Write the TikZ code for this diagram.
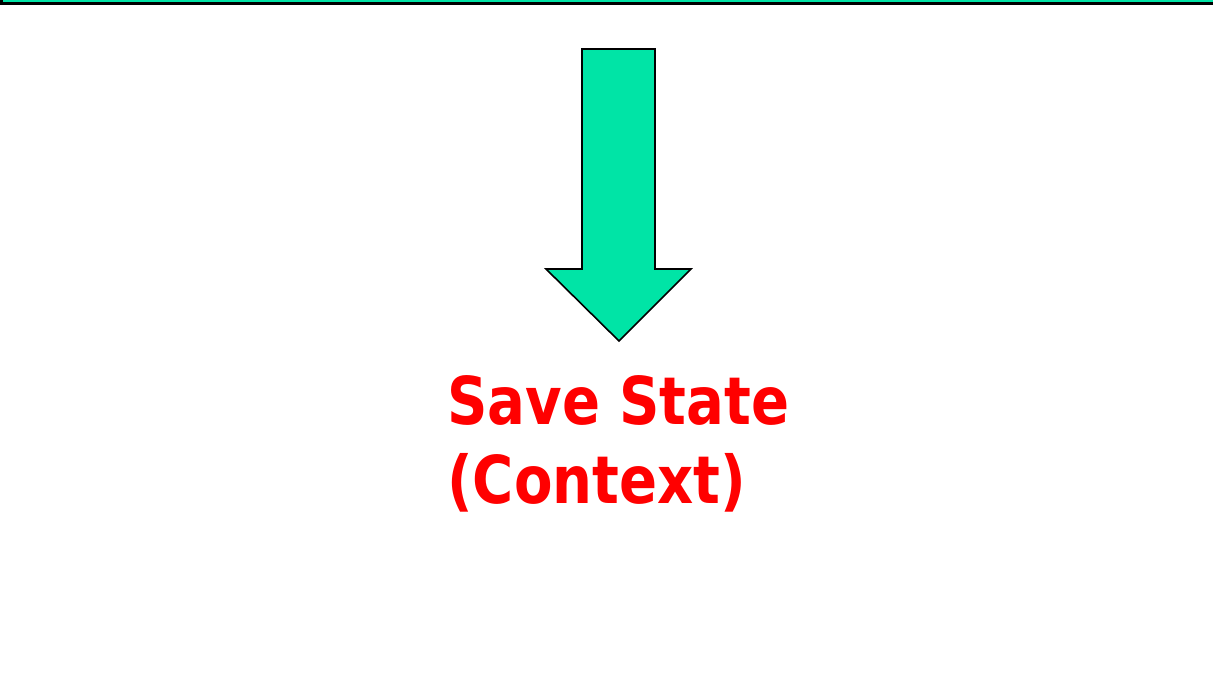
\documentclass[tikz,border=0pt]{standalone}
\usepackage{fontspec}
\newfontfamily\labelfont[FakeStretch=0.85]{DejaVu Sans Bold}
\definecolor{arrowgreen}{RGB}{0,228,166}
\definecolor{labelred}{RGB}{255,0,0}
\tikzset{
  greenshape/.style={fill=arrowgreen, draw=black, line width=1.6pt, line join=miter},
  bigtext/.style={text=labelred, font=\labelfont\fontsize{66}{79}\selectfont, inner sep=0pt, align=left, anchor=north west}
}
\begin{document}
\begin{tikzpicture}[x=1pt,y=-1pt]
\useasboundingbox (0,0) rectangle (1213,682);
\fill[white] (0,0) rectangle (1213,682);
\begin{scope}
\clip (0,0) rectangle (1213,682);
\draw[greenshape, line width=2.4pt] (1.5,-40) rectangle (1260,3.5);
\end{scope}
\draw[greenshape] (582,49) -- (655,49) -- (655,269) -- (691,269) -- (619,341) -- (546,269) -- (582,269) -- cycle;
\node[bigtext] (label) at (447,375) {Save State\\(Context)};
\end{tikzpicture}
\end{document}
